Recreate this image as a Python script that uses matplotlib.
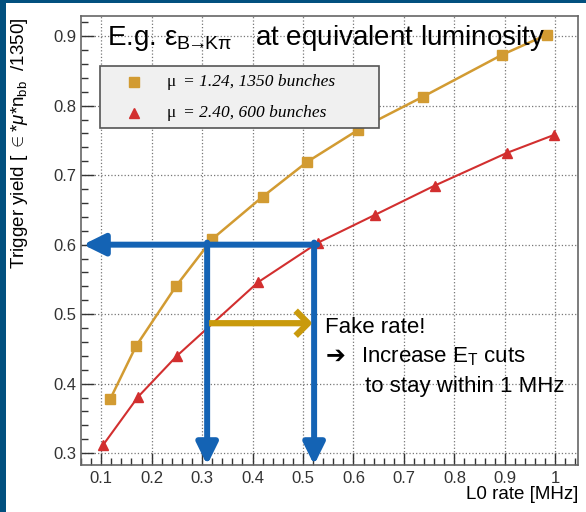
import matplotlib
matplotlib.use("Agg")
import matplotlib.pyplot as plt
from matplotlib.patches import Rectangle
from matplotlib.ticker import MultipleLocator

plt.rcParams['font.family'] = ['Liberation Sans', 'DejaVu Sans']
plt.rcParams['mathtext.fontset'] = 'custom'
plt.rcParams['mathtext.rm'] = 'Liberation Sans'
plt.rcParams['mathtext.it'] = 'Liberation Sans:italic'

# mu = 1.24, 1350 bunches
rate_a = [0.118, 0.169, 0.249, 0.320, 0.420, 0.508, 0.609, 0.738, 0.894, 0.983]
yield_a = [0.378, 0.454, 0.541, 0.608, 0.669, 0.719, 0.765, 0.813, 0.873, 0.902]
# mu = 2.40, 600 bunches
rate_b = [0.104, 0.173, 0.250, 0.411, 0.530, 0.643, 0.761, 0.904, 0.998]
yield_b = [0.312, 0.381, 0.440, 0.546, 0.603, 0.643, 0.685, 0.732, 0.758]

labels = ["= 1.24, 1350 bunches", "= 2.40, 600 bunches"]

# annotation levels
target_yield = 0.60
rate_at_target_a = 0.31
rate_at_target_b = 0.522
fake_yield = 0.487

ORANGE = '#d29b32'
RED = '#d22f2f'
BLUE = '#1463b4'
GOLD = '#c99a0c'

fig = plt.figure(figsize=(5.86, 5.12), dpi=100)
fig.patch.set_facecolor('white')
ax = fig.add_axes([81 / 586, 1 - 465 / 512, 497 / 586, 449 / 512])

ax.set_xlim(0.06, 1.045)
ax.set_ylim(0.283, 0.929)

ax.plot(rate_a, yield_a, '-', color=ORANGE, lw=1.8, marker='s', ms=7.5,
        mec=ORANGE, mfc=ORANGE, zorder=3)
ax.plot(rate_b, yield_b, '-', color=RED, lw=1.5, marker='^', ms=7,
        mec=RED, mfc=RED, zorder=3)

# ticks / grid
ax.xaxis.set_minor_locator(MultipleLocator(0.02))
ax.yaxis.set_major_locator(MultipleLocator(0.1))
ax.yaxis.set_minor_locator(MultipleLocator(0.02))
ax.set_xticks([0.1, 0.2, 0.3, 0.4, 0.5, 0.6, 0.7, 0.8, 0.9, 1.0])
ax.set_xticklabels(['0.1', '0.2', '0.3', '0.4', '0.5', '0.6', '0.7', '0.8', '0.9', '1'])
ax.tick_params(which='both', direction='in', colors='#333333', labelsize=12,
               top=False, right=False)
ax.tick_params(which='major', length=9, width=1)
ax.tick_params(which='minor', length=5, width=1)
ax.tick_params(axis='x', pad=4)
ax.grid(True, which='major', linestyle=':', color='#777777', lw=0.9)
for s in ax.spines.values():
    s.set_color('#666666')
    s.set_linewidth(1.2)

# legend box
ax.add_patch(Rectangle((0.038, 0.751), 0.562, 0.138, transform=ax.transAxes,
                       facecolor='#f0f0f0', edgecolor='#555555', lw=1.2, zorder=4))
ax.plot([0.107], [0.853], 's', color=ORANGE, ms=7.5, transform=ax.transAxes, zorder=5)
ax.plot([0.107], [0.784], '^', color=RED, ms=7, transform=ax.transAxes, zorder=5)
for yy, lab in zip([0.853, 0.784], labels):
    ax.text(0.173, yy, "μ", transform=ax.transAxes, va='center', ha='left',
            family='Liberation Serif', fontsize=12.5, zorder=5)
    ax.text(0.205, yy, lab, transform=ax.transAxes, va='center', ha='left',
            family='Liberation Serif', style='italic', fontsize=12.5, zorder=5)

# title in the frame
ax.text(0.052, 0.935,
        r"E.g. $\mathrm{ε}_{\mathrm{B}\!\!\rightarrow\!\!\mathrm{Kπ}}$   at equivalent luminosity",
        transform=ax.transAxes, ha='left', va='baseline', fontsize=20, zorder=5)

# blue arrows
blue_style = '-|>,head_length=0.65,head_width=0.32'
ax.annotate('', xy=(0.064, target_yield), xytext=(rate_at_target_b + 0.006, target_yield),
            arrowprops=dict(arrowstyle=blue_style, color=BLUE, lw=4.3,
                            mutation_scale=20, shrinkA=0, shrinkB=0), zorder=6)
for xr in [rate_at_target_a, rate_at_target_b]:
    ax.annotate('', xy=(xr, 0.283), xytext=(xr, target_yield + 0.003),
                arrowprops=dict(arrowstyle=blue_style, color=BLUE, lw=4.3,
                                mutation_scale=20, shrinkA=0, shrinkB=0),
                zorder=6, annotation_clip=False)

# gold arrow
ax.annotate('', xy=(rate_at_target_b - 0.003, fake_yield),
            xytext=(rate_at_target_a + 0.004, fake_yield),
            arrowprops=dict(arrowstyle='->,head_length=0.45,head_width=0.45',
                            color=GOLD, lw=4.5, mutation_scale=20,
                            shrinkA=0, shrinkB=0, capstyle='butt'), zorder=6)

ax.text(0.544, 0.473, "Fake rate!", fontsize=16, ha='left', va='baseline', zorder=7)
ax.text(0.545, 0.430, "\u2794", fontsize=17, ha='left', va='baseline', zorder=7,
        family=['DejaVu Sans'], fontweight='bold')
ax.text(0.615, 0.430, r"Increase E$_{\mathrm{T}}$ cuts", fontsize=16, ha='left',
        va='baseline', zorder=7)
ax.text(0.623, 0.388, "to stay within 1 MHz", fontsize=16, ha='left',
        va='baseline', zorder=7)

# axis titles
fig.text(20 / 586, 1 - 18 / 512,
         r"Trigger yield [ $\in$*$\mu$*n$_{\mathrm{bb}}$  /1350]",
         rotation=90, ha='center', va='top', fontsize=13.5)
fig.text(578 / 586, 1 - 503 / 512, "L0 rate [MHz]", ha='right', va='bottom',
         fontsize=13.5)

# dark blue slide border
fig.patches.append(Rectangle((0, 0), 6 / 586, 1, transform=fig.transFigure,
                             facecolor='#02507f', edgecolor='none', zorder=10))
fig.patches.append(Rectangle((0, 1 - 3 / 512), 1, 3 / 512, transform=fig.transFigure,
                             facecolor='#02507f', edgecolor='none', zorder=10))

fig.savefig('out.png', dpi=100)
